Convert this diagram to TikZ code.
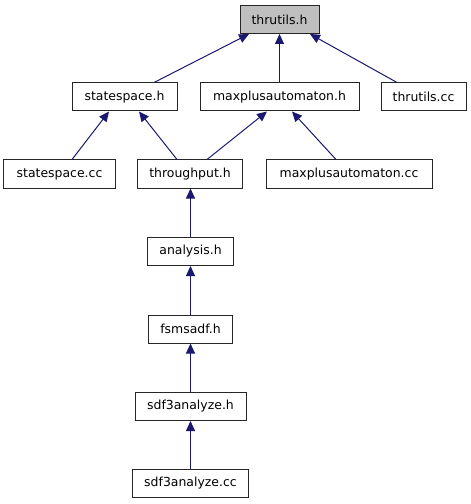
\documentclass[tikz,border=0pt]{standalone}
\usepackage{fontspec}
\setmainfont{DejaVu Sans}
\usetikzlibrary{arrows.meta}
\definecolor{edgeblue}{HTML}{191970}
\definecolor{rootgray}{HTML}{BFBFBF}
\begin{document}
\begin{tikzpicture}[x=1bp,y=-1bp,
  file/.style={draw=black!85,line width=1bp,fill=white,inner sep=0pt,minimum height=28bp,font=\fontsize{12.5}{14}\selectfont},
  dep/.style={draw=edgeblue,line width=1bp,-{Triangle[length=10bp,width=9bp]}}]
\useasboundingbox[fill=white] (0,0) rectangle (471,504);
\node[file,fill=rootgray,minimum width=79bp] (thr) at (279.5,19.5) {thrutils.h};
\node[file,minimum width=105bp] (ssh) at (124.5,97) {statespace.h};
\node[file,minimum width=159bp] (mph) at (279.5,97) {maxplusautomaton.h};
\node[file,minimum width=85bp] (thcc) at (423.5,97) {thrutils.cc};
\node[file,minimum width=111bp] (sscc) at (59.5,174) {statespace.cc};
\node[file,minimum width=105bp] (tph) at (190,174) {throughput.h};
\node[file,minimum width=166bp] (mpcc) at (349,174) {maxplusautomaton.cc};
\node[file,minimum width=86bp] (anh) at (190.5,251.5) {analysis.h};
\node[file,minimum width=84bp] (fsh) at (190.5,329) {fsmsadf.h};
\node[file,minimum width=111bp] (sah) at (190.5,406.5) {sdf3analyze.h};
\node[file,minimum width=116bp] (sacc) at (190.5,483.5) {sdf3analyze.cc};
\draw[dep] ([xshift=29.5bp]ssh.north) -- ([xshift=-30.5bp]thr.south);
\draw[dep] (mph.north) -- (thr.south);
\draw[dep] ([xshift=-26.5bp]thcc.north) -- ([xshift=30.5bp]thr.south);
\draw[dep] ([xshift=12.5bp]sscc.north) -- ([xshift=-15.5bp]ssh.south);
\draw[dep] ([xshift=-13bp]tph.north) -- ([xshift=14.5bp]ssh.south);
\draw[dep] ([xshift=17bp]tph.north) -- ([xshift=-12.5bp]mph.south);
\draw[dep] ([xshift=-13bp]mpcc.north) -- ([xshift=12.5bp]mph.south);
\draw[dep] (anh.north) -- (anh.north |- tph.south);
\draw[dep] (fsh.north) -- (anh.south);
\draw[dep] (sah.north) -- (fsh.south);
\draw[dep] (sacc.north) -- (sah.south);
\end{tikzpicture}
\end{document}
